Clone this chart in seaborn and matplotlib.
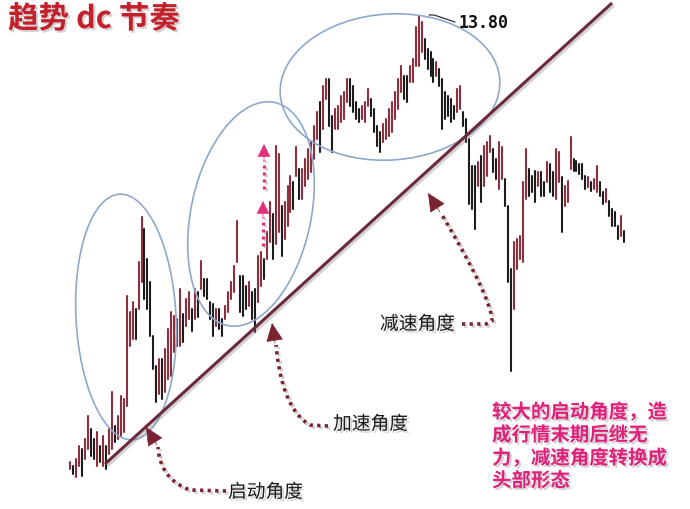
import numpy as np
import pandas as pd
import matplotlib
matplotlib.use("Agg")
import matplotlib.pyplot as plt
import matplotlib.patheffects as pe
from matplotlib.patches import Ellipse
import seaborn as sns

# ---------------------------------------------------------------------------
# Datos (precio máximo / mínimo de cada barra)
# ---------------------------------------------------------------------------
high = [4.88, 4.80, 4.94, 5.20, 5.14, 5.34, 5.80, 5.54, 5.34, 5.48,
        5.20, 5.40, 5.20, 5.54, 6.28, 5.60, 5.80, 6.20, 6.14, 8.20,
        7.88, 8.08, 7.94, 8.88, 9.78, 9.54, 8.94, 8.48, 7.40, 6.80,
        6.94, 6.94, 7.14, 7.54, 7.88, 7.80, 7.74, 8.34, 7.84, 8.14,
        8.28, 7.94, 8.34, 8.28, 8.90, 8.54, 8.54, 8.08, 8.04, 7.94,
        7.94, 7.74, 8.00, 8.28, 8.48, 8.80, 9.70, 8.60, 8.60, 8.40,
        8.48, 8.28, 8.34, 9.00, 9.08, 8.94, 9.48, 10.08, 9.84, 11.20,
        11.04, 10.00, 10.08, 10.40, 10.60, 10.48, 11.18, 10.74, 10.74, 10.94,
        11.14, 11.28, 11.60, 11.88, 12.08, 12.40, 12.54, 12.54, 11.80, 11.94,
        12.00, 12.20, 12.28, 12.54, 12.54, 12.40, 12.08, 11.94, 12.00, 12.08,
        12.34, 12.14, 11.94, 11.60, 11.48, 11.64, 11.74, 11.94, 12.08, 12.28,
        12.54, 12.80, 12.60, 12.60, 12.80, 12.94, 13.58, 13.80, 13.68, 13.34,
        13.14, 13.08, 12.94, 12.88, 12.74, 12.54, 12.28, 12.20, 12.14, 12.00,
        12.34, 12.40, 11.88, 11.74, 11.34, 10.80, 10.80, 10.88, 11.00, 11.20,
        11.28, 11.40, 11.14, 10.94, 11.28, 11.18, 10.54, 10.00, 8.74, 9.28,
        9.34, 9.40, 10.48, 11.14, 10.74, 10.60, 10.70, 10.68, 10.68, 10.48,
        10.88, 10.84, 10.68, 11.14, 11.08, 10.58, 10.40, 10.50, 11.38, 10.94,
        10.90, 10.84, 10.84, 10.60, 10.58, 10.48, 10.54, 10.80, 10.48, 10.28,
        10.34, 10.10, 9.94, 9.88, 9.60, 9.80, 9.50]
low = [4.74, 4.64, 4.58, 4.80, 4.60, 4.94, 5.14, 5.00, 4.94, 4.80,
       4.88, 4.80, 4.74, 5.04, 5.14, 5.28, 5.34, 5.40, 5.48, 6.00,
       7.20, 7.34, 7.34, 7.94, 8.48, 8.14, 7.94, 7.40, 6.74, 6.08,
       6.24, 6.14, 6.28, 6.54, 6.60, 7.08, 7.20, 7.20, 7.28, 7.60,
       7.74, 7.50, 7.74, 7.78, 8.34, 8.20, 8.14, 7.74, 7.40, 7.60,
       7.54, 7.40, 7.74, 7.88, 8.14, 8.28, 8.88, 7.88, 7.80, 7.94,
       8.00, 7.74, 7.48, 8.08, 8.40, 8.54, 8.94, 9.28, 8.94, 9.24,
       9.48, 9.00, 9.34, 9.60, 9.88, 9.94, 10.60, 10.14, 10.14, 10.40,
       10.54, 10.68, 10.94, 11.34, 11.08, 11.54, 12.14, 11.60, 11.08, 11.54,
       11.54, 11.68, 11.74, 12.08, 12.00, 11.88, 11.74, 11.68, 11.74, 11.68,
       12.00, 11.80, 11.48, 11.20, 11.08, 11.28, 11.34, 11.40, 11.48, 11.74,
       11.94, 12.28, 12.14, 12.08, 12.48, 12.48, 12.80, 12.80, 13.08, 12.94,
       12.74, 12.60, 12.48, 12.60, 12.40, 11.54, 11.74, 11.80, 11.68, 11.74,
       11.88, 11.94, 11.60, 11.28, 10.04, 9.94, 9.54, 10.40, 10.08, 10.40,
       10.60, 11.08, 10.68, 10.54, 10.34, 10.54, 10.00, 8.48, 6.70, 7.94,
       8.74, 8.94, 8.88, 10.14, 10.20, 10.28, 10.08, 10.40, 10.20, 10.20,
       10.48, 10.28, 10.20, 10.14, 10.48, 9.48, 10.00, 10.08, 10.74, 10.70,
       10.70, 10.64, 10.54, 10.34, 10.38, 10.30, 10.34, 10.28, 10.20, 10.04,
       10.08, 9.80, 9.60, 9.60, 9.34, 9.40, 9.28]

peak_label = "13.80"
title_text = "趋势 dc 节奏"
label_start = "启动角度"
label_accel = "加速角度"
label_decel = "减速角度"
note_lines = ["较大的启动角度，造", "成行情末期后继无", "力，减速角度转换成", "头部形态"]

BAR_UP = "#8e2f3e"
BAR_DOWN = "#1c1c1c"
TREND = "#6b2a3c"
ARROW = "#7a2232"
ELLIPSE = "#8ea8cc"
PINK = "#e0307a"

sns.set_theme(style="white")
plt.rcParams["font.family"] = ["Noto Sans CJK SC", "DejaVu Sans"]

# tabla larga: cada barra es una "unidad" con dos puntos (mínimo y máximo)
days = np.arange(len(high))
mid = (np.array(high) + np.array(low)) / 2
direction = np.where(np.diff(mid, prepend=mid[0]) >= 0, "up", "down")
df = pd.DataFrame({
    "day": np.repeat(days, 2),
    "price": np.column_stack([low, high]).ravel(),
    "dir": np.repeat(direction, 2),
})

fig = plt.figure(figsize=(6.9, 5.1), dpi=100)
fig.patch.set_facecolor("white")

ax = fig.add_axes([0, 0, 1, 1])
sns.lineplot(data=df, x="day", y="price", units="day", estimator=None,
             hue="dir", palette={"up": BAR_UP, "down": BAR_DOWN},
             linewidth=1.5, legend=False, ax=ax)
ax.set_xlim(-23.5, 208.1)
ax.set_ylim(3.94, 14.14)
ax.axis("off")

# capa de anotaciones en coordenadas de píxel
ann = fig.add_axes([0, 0, 1, 1])
ann.set_xlim(0, 690)
ann.set_ylim(510, 0)
ann.axis("off")
ann.patch.set_alpha(0)

shadow = [pe.SimpleLineShadow(offset=(1.5, -1.5), shadow_color="gray", alpha=0.35), pe.Normal()]
txt_shadow = [pe.withSimplePatchShadow(offset=(1.5, -1.5), shadow_rgbFace="gray", alpha=0.35)]

# línea de tendencia
ann.plot([105, 612], [465, 4], color=TREND, lw=2.2, path_effects=shadow, solid_capstyle="butt")

# elipses
for cx, cy, w, h, ang in [(126, 318, 100, 246, -3), (251, 215, 120, 228, 12), (390, 88, 220, 146, -4)]:
    ann.add_patch(Ellipse((cx, cy), w, h, angle=ang, fill=False, ec=ELLIPSE, lw=1.2))


def dotted_arrow(pts, tip, base, color, lw=2.6, head=20, width=0.28):
    pts = np.array(pts, dtype=float)
    ann.plot(pts[:, 0], pts[:, 1], color=color, lw=lw, ls=(0, (0.9, 1.2)),
             dash_capstyle="butt", path_effects=shadow)
    ann.annotate("", xy=tip, xytext=base,
                 arrowprops=dict(arrowstyle=f"-|>,head_length=0.6,head_width={width}",
                                 mutation_scale=head, color=color, lw=0.5,
                                 shrinkA=0, shrinkB=0))


def bezier(p0, p1, p2, n=30):
    t = np.linspace(0, 1, n)[:, None]
    p0, p1, p2 = map(np.array, (p0, p1, p2))
    return (1 - t) ** 2 * p0 + 2 * (1 - t) * t * p1 + t ** 2 * p2


dotted_arrow(np.vstack([[(226, 492)], bezier((190, 491), (160, 480), (158, 448))]),
             tip=(146, 428), base=(157, 446), color=ARROW)
dotted_arrow(np.vstack([[(328, 427)], bezier((310, 426), (282, 410), (276, 346))]),
             tip=(272, 324), base=(275, 344), color=ARROW)
dotted_arrow(np.vstack([[(462, 325), (486, 325)], bezier((492, 322), (492, 300), (442, 216))]),
             tip=(428, 194), base=(440, 213), color=ARROW)

# flechas rosadas punteadas
dotted_arrow([(263, 247), (263, 218)], tip=(263, 202), base=(263, 218), color=PINK,
             lw=2.4, head=14, width=0.3)
dotted_arrow([(264, 190), (264, 161)], tip=(264, 145), base=(264, 161), color=PINK,
             lw=2.4, head=14, width=0.3)

# etiqueta del máximo
ann.plot([429, 434, 455], [16, 16, 23], color="#333333", lw=0.9)
ann.text(458, 23, peak_label, fontsize=12, family="DejaVu Sans Mono", fontweight="bold",
         color="#111111", va="center", ha="left")

# textos
ann.text(8, 20, title_text, fontsize=22, color="#c4202c", fontweight="bold", style="italic",
         va="center", ha="left", path_effects=txt_shadow)
for text, x, y in [(label_start, 228, 493), (label_accel, 333, 425), (label_decel, 380, 325)]:
    ann.text(x, y, text, fontsize=13.5, color="#1a1a1a", va="center", ha="left",
             path_effects=txt_shadow)
for i, line in enumerate(note_lines):
    ann.text(492, 413 + i * 23, line, fontsize=14, color="#e0207a", fontweight="bold",
             va="center", ha="left", path_effects=txt_shadow)

fig.savefig("out.png", dpi=100, facecolor="white")
